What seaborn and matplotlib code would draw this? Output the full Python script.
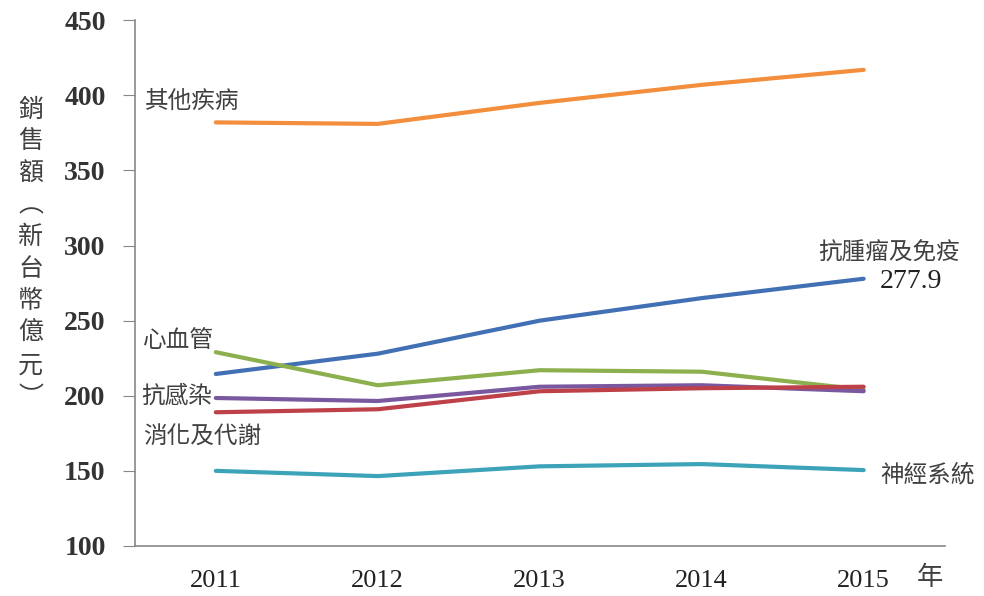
import numpy as np
import pandas as pd
import matplotlib.pyplot as plt
import seaborn as sns

years = [2011, 2012, 2013, 2014, 2015]
other = [382, 381, 395, 407, 417]
oncology = [214.5, 228, 250, 265, 277.9]
cardio = [229, 207, 217, 216, 204]
infection = [198.5, 196.5, 206, 207, 203]
digestive = [189, 191, 203, 205, 206]
neuro = [150, 146.5, 153, 154.5, 150.5]

names = ["其他疾病", "抗腫瘤及免疫", "心血管", "抗感染", "消化及代謝", "神經系統"]
colors = ["#F28E3C", "#4270B4", "#8DB04E", "#7A58A0", "#BE4048", "#3DA3B8"]

df = pd.DataFrame({
    "year": years * 6,
    "value": other + oncology + cardio + infection + digestive + neuro,
    "group": [n for n in names for _ in years],
})

sns.set_style("white")
plt.rcParams['font.family'] = ['Noto Sans CJK TC', 'DejaVu Sans']

fig = plt.figure(figsize=(9.84, 5.96), dpi=100)
ax = fig.add_axes([0.137, 0.084, 0.823, 0.882])

sns.lineplot(data=df, x="year", y="value", hue="group", palette=dict(zip(names, colors)),
             hue_order=names, linewidth=3, legend=False, ax=ax)

ax.set_xlim(2010.5, 2015.5)
ax.set_ylim(100, 450)
ax.set_xticks(years)
ax.set_xticklabels([str(y) for y in years], family='Liberation Serif', fontsize=19,
                   color='#222222')
ax.set_xticks(np.arange(2010.5, 2015.6, 1), minor=True)
ax.set_yticks(range(100, 451, 50))
ax.set_yticklabels([str(v) for v in range(100, 451, 50)], family='Liberation Serif',
                   fontsize=20, color='#333333', weight='bold')
ax.tick_params(axis='x', which='major', length=0, pad=17)
ax.tick_params(axis='x', which='minor', length=8, color='#888888', direction='out')
ax.tick_params(axis='y', length=9, color='#888888', direction='out', left=True, pad=12)
ax.set_xlabel("")
ax.set_ylabel("")
for s in ["top", "right"]:
    ax.spines[s].set_visible(False)
for s in ["left", "bottom"]:
    ax.spines[s].set_color('#888888')
    ax.spines[s].set_linewidth(1.2)

tc = '#404040'
fs = 17
ax.text(2010.56, 396, "其他疾病", fontsize=fs, color=tc, va='center')
ax.text(2010.55, 237, "心血管", fontsize=fs, color=tc, va='center')
ax.text(2010.54, 200, "抗感染", fontsize=fs, color=tc, va='center')
ax.text(2010.55, 172.5, "消化及代謝", fontsize=fs, color=tc, va='center')
ax.text(2014.72, 295, "抗腫瘤及免疫", fontsize=fs, color=tc, va='center')
ax.text(2015.10, oncology[-1] - 2, f"{oncology[-1]}", fontsize=20, color='#222222',
        va='center', family='Liberation Serif')
ax.text(2015.10, 147, "神經系統", fontsize=fs, color=tc, va='center')
ax.text(2015.33, 79, "年", fontsize=19, color=tc, va='center', clip_on=False)

ylabel = "銷售額︵新台幣億元︶"
fig.text(0.031, 0.575, "\n".join(ylabel), fontsize=18, color=tc, ha='center', va='center',
         linespacing=1.3)

fig.savefig("out.png", dpi=100)
